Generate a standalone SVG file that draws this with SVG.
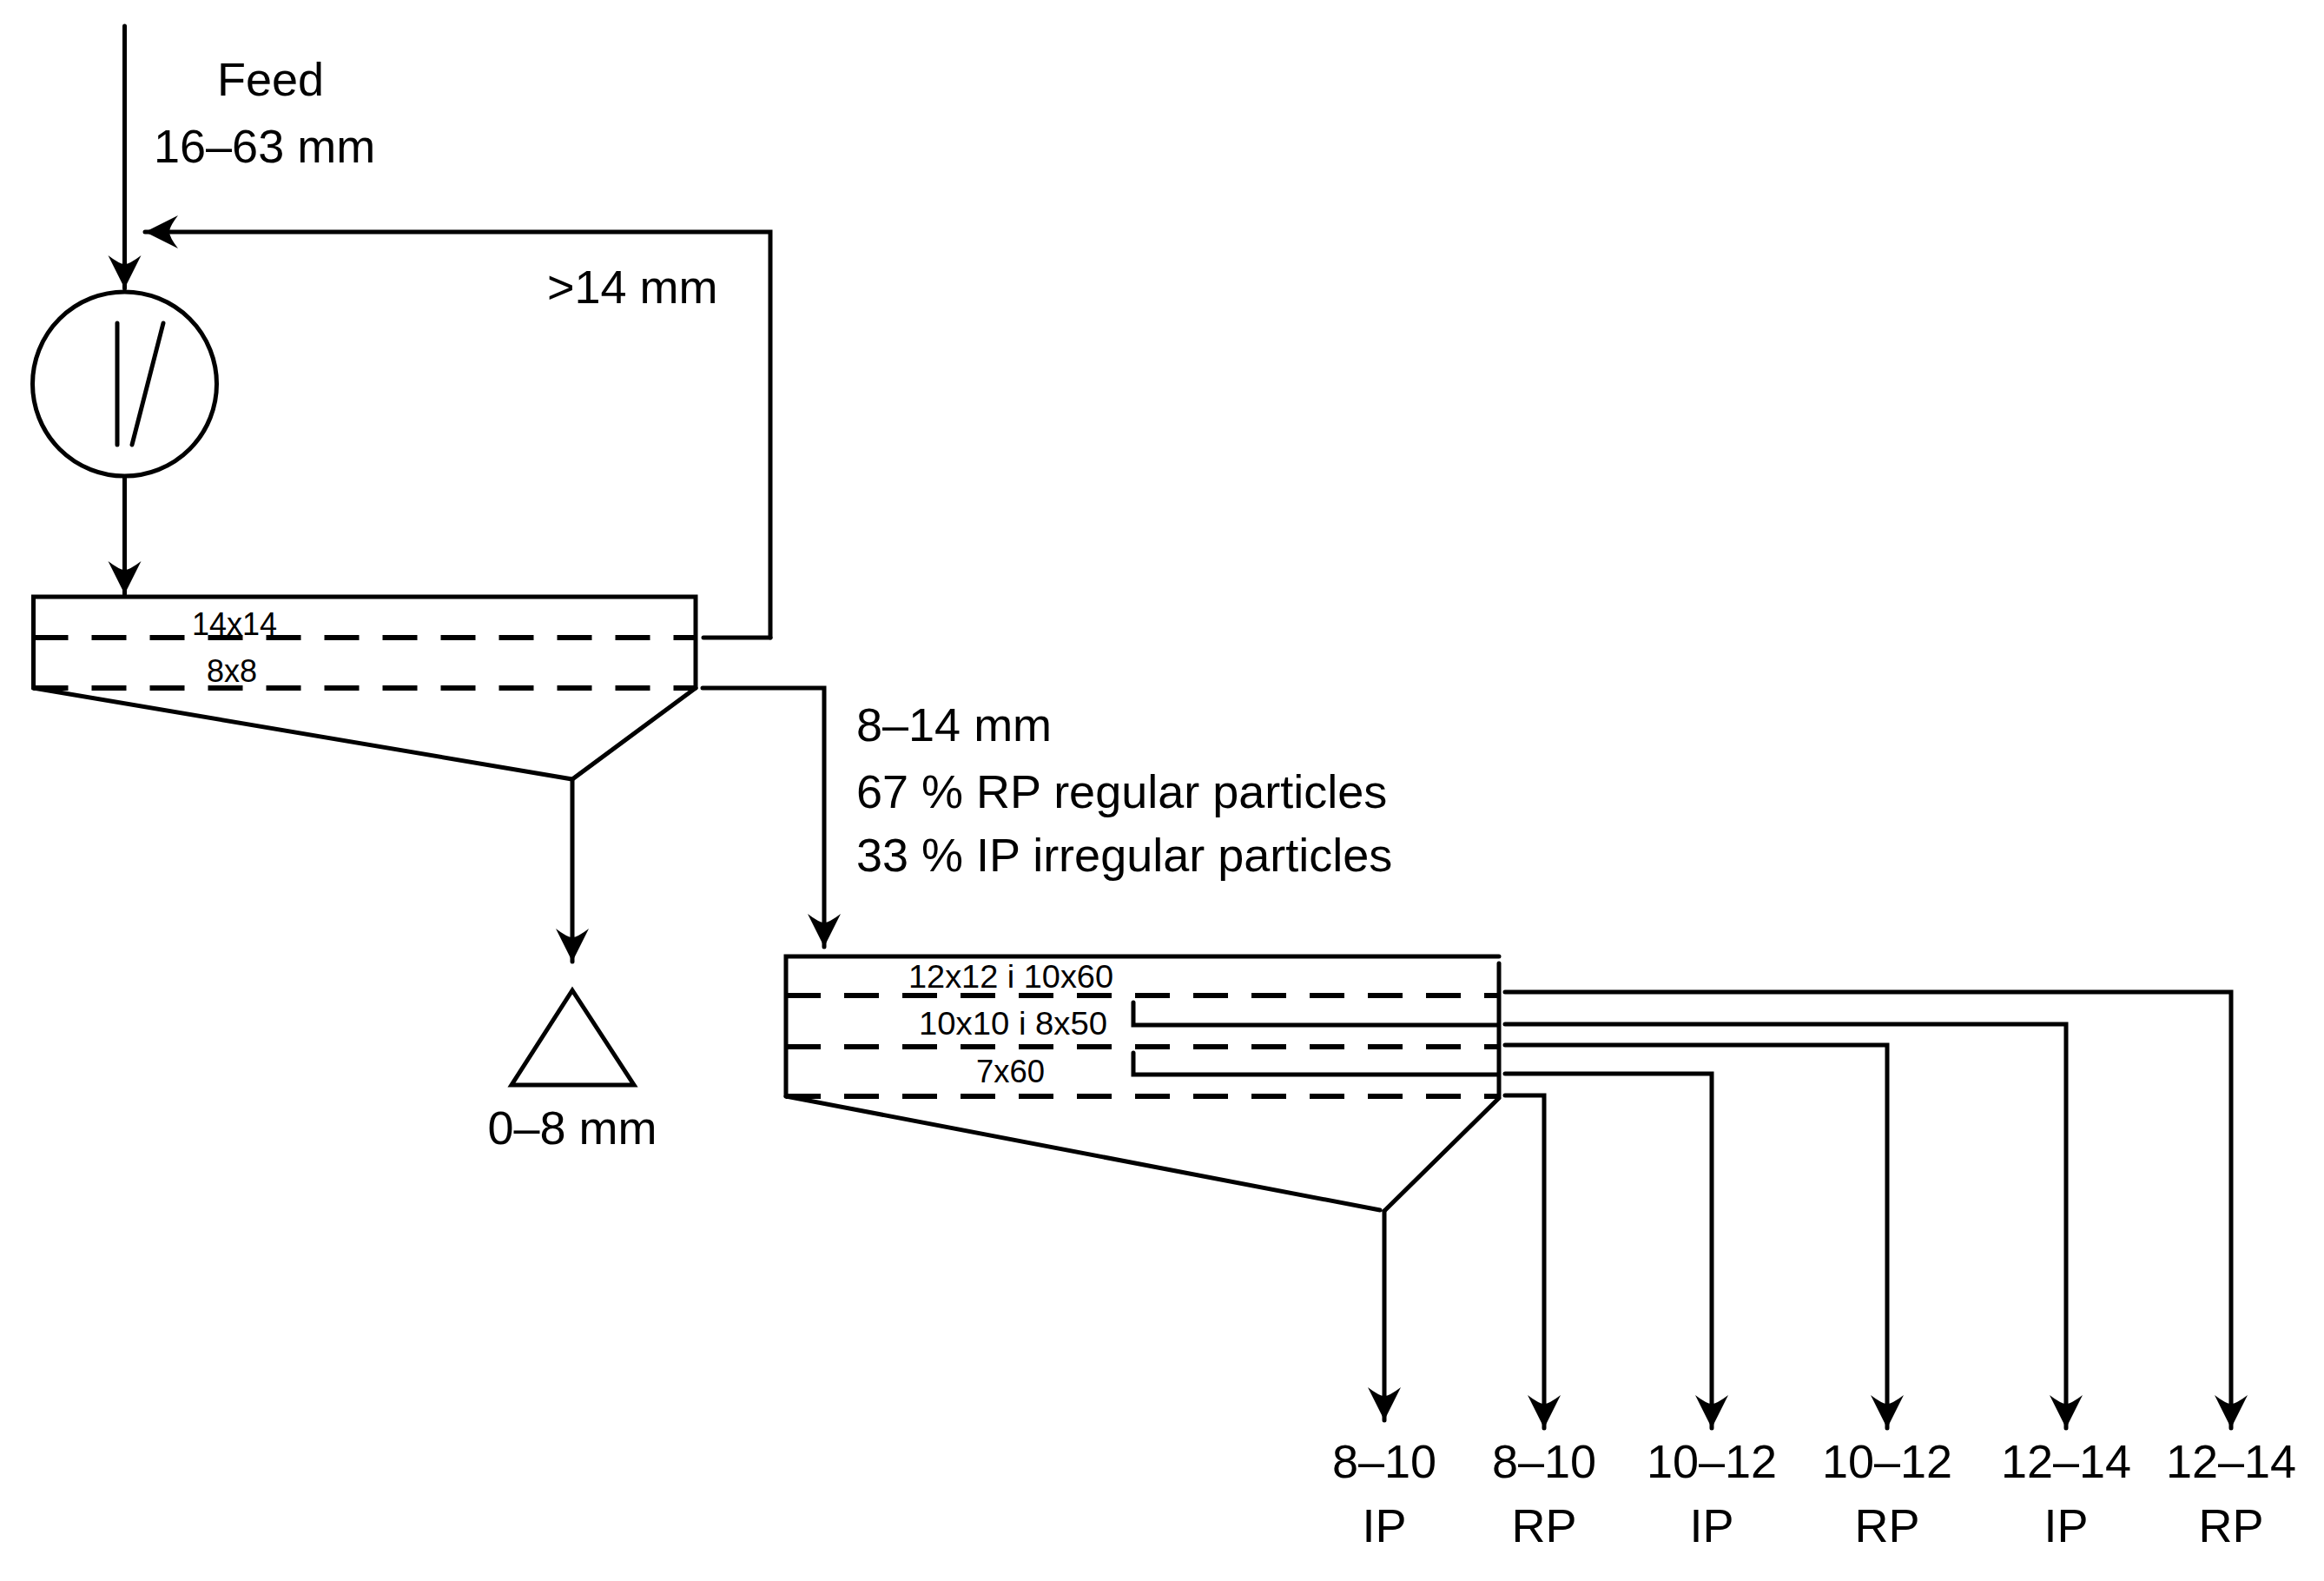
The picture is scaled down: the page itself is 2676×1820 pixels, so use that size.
<svg xmlns="http://www.w3.org/2000/svg" width="2676" height="1820" viewBox="0 0 2676 1820">
<style>
.l{fill:none;stroke:#000;stroke-width:5;stroke-linecap:round;stroke-linejoin:miter}
.d{fill:none;stroke:#000;stroke-width:6;stroke-dasharray:40 27}
.t{font-family:"Liberation Sans",Arial,sans-serif;font-size:54px;fill:#000}
.s{font-family:"Liberation Sans",Arial,sans-serif;font-size:36px;fill:#000}
</style>
<defs>
<marker id="a" markerUnits="userSpaceOnUse" markerWidth="40" markerHeight="40" viewBox="-38 -20 40 40" refX="0" refY="0" orient="auto">
<path d="M0,0 L-38,-19 Q-28,-6 -28,0 Q-28,6 -38,19 Z" fill="#000"/>
</marker>
</defs>
<rect width="2676" height="1820" fill="#fff"/>
<g id="connectors">
<path class="l" d="M143.5,30 V332" marker-end="url(#a)"/>
<path class="l" d="M887,734 V267 H167" marker-end="url(#a)"/>
<path class="l" d="M810,734 H887"/>
<path class="l" d="M143.5,550 V684" marker-end="url(#a)"/>
<path class="l" d="M809,792 H949 V1090" marker-end="url(#a)"/>
<path class="l" d="M659,897 V1107" marker-end="url(#a)"/>
<path class="l" d="M1733,1142 H2569 V1644" marker-end="url(#a)"/>
<path class="l" d="M1733,1179 H2379 V1644" marker-end="url(#a)"/>
<path class="l" d="M1733,1203 H2173 V1644" marker-end="url(#a)"/>
<path class="l" d="M1733,1236 H1971 V1644" marker-end="url(#a)"/>
<path class="l" d="M1733,1261 H1778 V1644" marker-end="url(#a)"/>
<path class="l" d="M1594,1394 V1635" marker-end="url(#a)"/>
</g>
<g id="feed">
<text class="t" x="250" y="110">Feed</text>
<text class="t" x="177" y="187">16–63 mm</text>
</g>
<g id="crusher">
<circle class="l" cx="143.5" cy="442" r="106"/>
<path class="l" d="M135,372 V512 M188,372 L152,512"/>
</g>
<text class="t" x="630" y="349">&gt;14 mm</text>
<g id="screen1">
<path class="l" d="M38.5,792 V687 H801 V792"/>
<line class="d" x1="38.5" y1="734" x2="801" y2="734"/>
<line class="d" x1="38.5" y1="792" x2="801" y2="792"/>
<path class="l" d="M38.5,792 L659,897 L801,792"/>
<text class="s" x="270" y="731" text-anchor="middle">14x14</text>
<text class="s" x="267" y="785" text-anchor="middle">8x8</text>
</g>
<g id="fines">
<path class="l" d="M659,1140 L730,1249 H589 Z"/>
<text class="t" x="659" y="1317" text-anchor="middle">0–8 mm</text>
</g>
<g id="label814">
<text class="t" x="986" y="853">8–14 mm</text>
<text class="t" x="986" y="930">67 % RP regular particles</text>
<text class="t" x="986" y="1003">33 % IP irregular particles</text>
</g>
<g id="screen2">
<path class="l" d="M905,1262 V1101 H1726"/>
<path class="l" d="M1726,1109 V1262"/>
<line class="d" x1="905" y1="1146" x2="1726" y2="1146"/>
<line class="d" x1="905" y1="1205" x2="1726" y2="1205"/>
<line class="d" x1="905" y1="1262" x2="1726" y2="1262"/>
<path class="l" d="M1305,1154 V1180 H1724 M1305,1212 V1237 H1724"/>
<path class="l" d="M905,1262 L1589,1393 M1726,1264 L1594,1394"/>
<text class="s" x="1046" y="1137" textLength="236" lengthAdjust="spacingAndGlyphs">12x12 i 10x60</text>
<text class="s" x="1058" y="1191" textLength="217" lengthAdjust="spacingAndGlyphs">10x10 i 8x50</text>
<text class="s" x="1124" y="1246" textLength="79" lengthAdjust="spacingAndGlyphs">7x60</text>
</g>
<g id="products" class="t" text-anchor="middle">
<text x="1594" y="1701">8–10</text><text x="1594" y="1775">IP</text>
<text x="1778" y="1701">8–10</text><text x="1778" y="1775">RP</text>
<text x="1971" y="1701">10–12</text><text x="1971" y="1775">IP</text>
<text x="2173" y="1701">10–12</text><text x="2173" y="1775">RP</text>
<text x="2379" y="1701">12–14</text><text x="2379" y="1775">IP</text>
<text x="2569" y="1701">12–14</text><text x="2569" y="1775">RP</text>
</g>
</svg>
